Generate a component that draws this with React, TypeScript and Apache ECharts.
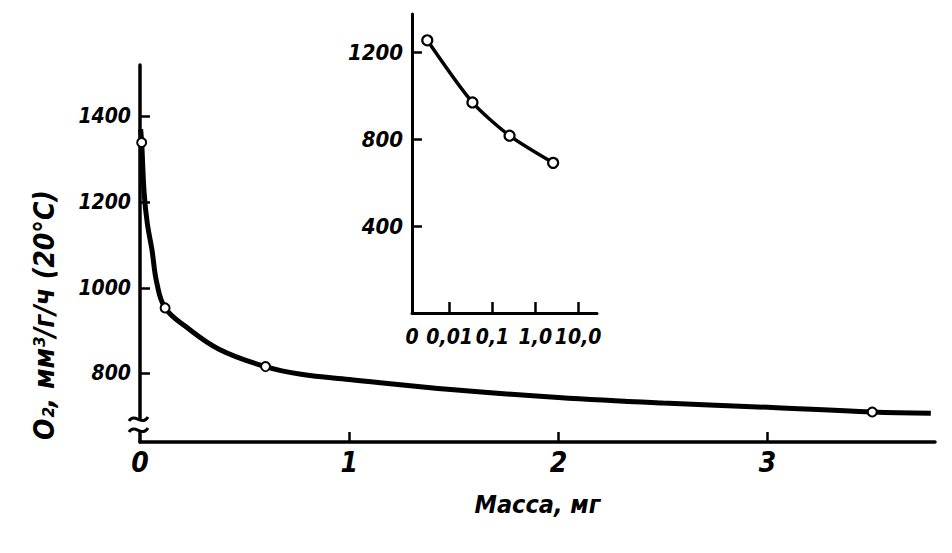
import React, { useEffect, useRef } from "react";
import * as echarts from "echarts";

// Main chart: measured points
const mainMass = [0.008, 0.12, 0.6, 3.5];
const mainO2 = [1339, 953, 816, 710];
// Main chart: curve
const curveMass = [0.003, 0.008, 0.02, 0.035, 0.057, 0.08, 0.12, 0.22, 0.38, 0.6, 0.77, 1.0, 1.5, 2.0, 2.5, 3.0, 3.5, 3.78];
const curveO2 = [1370, 1339, 1220, 1150, 1089, 1012, 953, 909, 856, 816, 798, 786, 762, 744, 731, 721, 710, 707];
const mainXTicks = [0, 1, 2, 3];
const mainYTicks = [800, 1000, 1200, 1400];

// Inset (mass on a logarithmic scale)
const insetMass = [0.003, 0.034, 0.25, 2.6];
const insetO2 = [1255, 969, 816, 691];
const insetXTicks = [0.01, 0.1, 1, 10];
const insetXLabels = ["0,01", "0,1", "1,0", "10,0"];
const insetYTicks = [400, 800, 1200];
const insetMassMin = 0.00132;
const insetMassMax = 27.5;

const FONT = "'DejaVu Sans Condensed', 'DejaVu Sans', sans-serif";
const labelStyle = { fontFamily: FONT, fontStyle: "italic", fontWeight: "bold", color: "#000" } as const;

export default function App() {
  const ref = useRef<HTMLDivElement>(null);
  useEffect(() => {
    if (!ref.current) return;
    const chart = echarts.init(ref.current, null, { renderer: "svg" });
    // the inset's horizontal axis is logarithmic: positions are decades of mass
    const lg = (m: number) => Math.log10(m);
    const insetTickPos = insetXTicks.map(lg);
    const plain = (v: number) => String(v);
    chart.setOption({
      animation: false,
      backgroundColor: "#fff",
      grid: [
        { left: 140, right: 17, top: 65, bottom: 111 },
        { left: 412, right: 355, top: 14, bottom: 240 },
      ],
      xAxis: [
        {
          type: "value",
          gridIndex: 0,
          min: 0,
          max: 3.8,
          name: "Масса, мг",
          nameLocation: "middle",
          nameGap: 50,
          nameTextStyle: { ...labelStyle, fontSize: 25 },
          axisLine: { onZero: false, lineStyle: { color: "#000", width: 3.5 } },
          axisTick: { inside: true, length: 10, customValues: [1, 2, 3], lineStyle: { color: "#000", width: 2.5 } },
          axisLabel: { ...labelStyle, fontSize: 28, margin: 6, customValues: mainXTicks, formatter: plain },
          splitLine: { show: false },
        },
        {
          type: "value",
          gridIndex: 1,
          min: lg(insetMassMin),
          max: lg(insetMassMax),
          axisLine: { onZero: false, lineStyle: { color: "#000", width: 3 } },
          axisTick: { inside: true, length: 11, customValues: insetTickPos, lineStyle: { color: "#000", width: 2.5 } },
          axisLabel: {
            ...labelStyle,
            fontSize: 21,
            margin: 13,
            customValues: [lg(insetMassMin), ...insetTickPos],
            formatter: (v: number) => {
              if (v < -2.5) return "0";
              const i = insetTickPos.findIndex((t) => Math.abs(t - v) < 0.01);
              return i >= 0 ? insetXLabels[i] : "";
            },
          },
          splitLine: { show: false },
        },
      ],
      yAxis: [
        {
          type: "value",
          gridIndex: 0,
          min: 640,
          max: 1520,
          axisLine: { onZero: false, lineStyle: { color: "#000", width: 3.5 } },
          axisTick: { inside: true, length: 10, customValues: mainYTicks, lineStyle: { color: "#000", width: 2.5 } },
          axisLabel: { ...labelStyle, fontSize: 21, margin: 9, customValues: mainYTicks, formatter: plain },
          splitLine: { show: false },
        },
        {
          type: "value",
          gridIndex: 1,
          min: 0,
          max: 1376,
          axisLine: { onZero: false, lineStyle: { color: "#000", width: 3 } },
          axisTick: { inside: true, length: 10, customValues: insetYTicks, lineStyle: { color: "#000", width: 2.5 } },
          axisLabel: { ...labelStyle, fontSize: 22, margin: 9, customValues: insetYTicks, formatter: plain },
          splitLine: { show: false },
        },
      ],
      series: [
        {
          type: "line",
          xAxisIndex: 0,
          yAxisIndex: 0,
          data: curveMass.map((m, i) => [m, curveO2[i]]),
          smooth: 0.4,
          showSymbol: false,
          lineStyle: { color: "#000", width: 5 },
          z: 2,
        },
        {
          type: "scatter",
          xAxisIndex: 0,
          yAxisIndex: 0,
          data: mainMass.map((m, i) => [m, mainO2[i]]),
          symbol: "circle",
          symbolSize: 9,
          itemStyle: { color: "#fff", borderColor: "#000", borderWidth: 2, opacity: 1 },
          z: 3,
        },
        {
          type: "line",
          xAxisIndex: 1,
          yAxisIndex: 1,
          data: insetMass.map((m, i) => [lg(m), insetO2[i]]),
          smooth: 0.25,
          symbol: "circle",
          symbolSize: 10,
          lineStyle: { color: "#000", width: 3.5 },
          itemStyle: { color: "#fff", borderColor: "#000", borderWidth: 2.2, opacity: 1 },
          z: 3,
        },
      ],
      graphic: [
        {
          type: "text",
          z: 100,
          x: 44,
          y: 315,
          rotation: Math.PI / 2,
          style: {
            text: "O₂, мм³/г/ч (20°С)",
            fontFamily: FONT,
            fontStyle: "italic",
            fontWeight: "bold",
            fontSize: 28,
            fill: "#000",
            align: "center",
            verticalAlign: "middle",
          },
        },
        { type: "rect", z: 100, shape: { x: 136, y: 420, width: 9, height: 11 }, style: { fill: "#fff" } },
        {
          type: "bezierCurve",
          z: 101,
          shape: { x1: 129, y1: 421, x2: 148, y2: 417, cpx1: 135, cpy1: 412, cpx2: 142, cpy2: 427 },
          style: { stroke: "#000", lineWidth: 3, fill: "none" },
        },
        {
          type: "bezierCurve",
          z: 101,
          shape: { x1: 129, y1: 432, x2: 148, y2: 428, cpx1: 135, cpy1: 423, cpx2: 142, cpy2: 438 },
          style: { stroke: "#000", lineWidth: 3, fill: "none" },
        },
      ],
    });
    return () => chart.dispose();
  }, []);
  return <div ref={ref} style={{ position: "fixed", left: 0, top: 0, width: 952, height: 553, background: "#fff" }} />;
}
